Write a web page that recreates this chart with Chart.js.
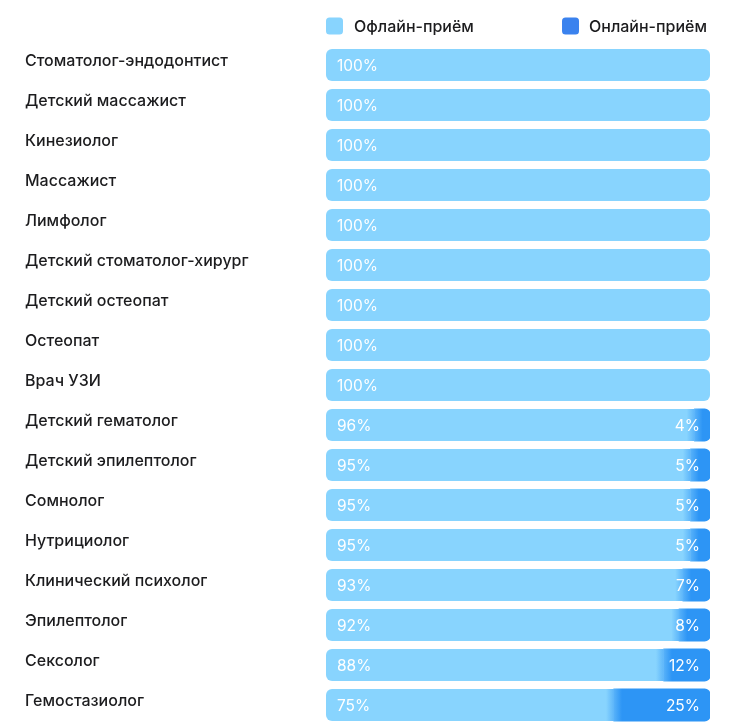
<!DOCTYPE html>
<html>
<head>
<meta charset="utf-8">
<script src="https://cdn.jsdelivr.net/npm/chart.js@4"></script>
<style>
  html, body { margin: 0; padding: 0; background: #fff; }
  #wrap { width: 742px; height: 726px; position: relative; }
</style>
</head>
<body>
<div id="wrap"><canvas id="c"></canvas></div>
<script>
const categories = [
  "Стоматолог-эндодонтист",
  "Детский массажист",
  "Кинезиолог",
  "Массажист",
  "Лимфолог",
  "Детский стоматолог-хирург",
  "Детский остеопат",
  "Остеопат",
  "Врач УЗИ",
  "Детский гематолог",
  "Детский эпилептолог",
  "Сомнолог",
  "Нутрициолог",
  "Клинический психолог",
  "Эпилептолог",
  "Сексолог",
  "Гемостазиолог"
];
const offlineValues = [100, 100, 100, 100, 100, 100, 100, 100, 100, 96, 95, 95, 95, 93, 92, 88, 75];
const onlineValues  = [0, 0, 0, 0, 0, 0, 0, 0, 0, 4, 5, 5, 5, 7, 8, 12, 25];
const seriesNames = ["Офлайн-приём", "Онлайн-приём"];

const OFF_COLOR = "#88D4FE";
const MID_COLOR = "#5CB5FA";
const ON_COLOR = "#2D95F5";
const ON_LEGEND = "#3A82EE";
const FONT = "Inter, 'Noto Sans', sans-serif";

function boundaryX(chart, i) {
  return chart.scales.x.getPixelForValue(offlineValues[i]);
}

function offlineBg(ctx) {
  const chart = ctx.chart;
  if (!chart.chartArea || ctx.type !== 'data') return OFF_COLOR;
  const i = ctx.dataIndex;
  if (!(onlineValues[i] > 0)) return OFF_COLOR;
  const x = boundaryX(chart, i);
  const g = chart.ctx.createLinearGradient(x - 8, 0, x, 0);
  g.addColorStop(0, OFF_COLOR);
  g.addColorStop(1, MID_COLOR);
  return g;
}

function onlineBg(ctx) {
  const chart = ctx.chart;
  if (!chart.chartArea || ctx.type !== 'data') return ON_COLOR;
  const i = ctx.dataIndex;
  if (!(onlineValues[i] > 0)) return 'rgba(0,0,0,0)';
  const x = boundaryX(chart, i);
  const g = chart.ctx.createLinearGradient(x - 1, 0, x + 8, 0);
  g.addColorStop(0, MID_COLOR);
  g.addColorStop(1, ON_COLOR);
  return g;
}

const valueLabels = {
  id: 'valueLabels',
  afterDatasetsDraw(chart) {
    const ctx = chart.ctx;
    ctx.save();
    ctx.font = "400 15.5px " + FONT;
    ctx.fillStyle = "#ffffff";
    ctx.textBaseline = "middle";
    const m0 = chart.getDatasetMeta(0);
    const m1 = chart.getDatasetMeta(1);
    m0.data.forEach((bar, i) => {
      const v = offlineValues[i];
      if (v > 0) {
        ctx.textAlign = "left";
        ctx.fillText(v + "%", bar.base + 11, bar.y + 1);
      }
    });
    m1.data.forEach((bar, i) => {
      const v = onlineValues[i];
      if (v > 0) {
        ctx.textAlign = "right";
        ctx.fillText(v + "%", bar.x - 10, bar.y + 1);
      }
    });
    ctx.restore();
  }
};

function roundRect(ctx, x, y, w, h, r) {
  ctx.beginPath();
  ctx.moveTo(x + r, y);
  ctx.lineTo(x + w - r, y);
  ctx.quadraticCurveTo(x + w, y, x + w, y + r);
  ctx.lineTo(x + w, y + h - r);
  ctx.quadraticCurveTo(x + w, y + h, x + w - r, y + h);
  ctx.lineTo(x + r, y + h);
  ctx.quadraticCurveTo(x, y + h, x, y + h - r);
  ctx.lineTo(x, y + r);
  ctx.quadraticCurveTo(x, y, x + r, y);
  ctx.closePath();
}

const topLegend = {
  id: 'topLegend',
  afterDraw(chart) {
    const ctx = chart.ctx;
    const area = chart.chartArea;
    ctx.save();
    ctx.font = "500 16px " + FONT;
    ctx.textBaseline = "middle";
    ctx.textAlign = "left";
    const cy = 26;
    const box = 17;
    const colors = [OFF_COLOR, ON_LEGEND];
    const x1 = area.left;
    const w2 = box + 10 + ctx.measureText(seriesNames[1]).width;
    const x2 = area.right - 5 - w2 + 2;
    [[x1, 11], [x2, 10]].forEach(([x, gap], i) => {
      ctx.fillStyle = colors[i];
      roundRect(ctx, x, cy - box / 2, box, box, 3.5);
      ctx.fill();
      ctx.fillStyle = "#1c1c1e";
      ctx.fillText(chart.data.datasets[i].label, x + box + gap, cy + 1);
    });
    ctx.restore();
  }
};

new Chart(document.getElementById('c'), {
  type: 'bar',
  data: {
    labels: categories,
    datasets: [
      {
        label: seriesNames[0],
        data: offlineValues,
        backgroundColor: offlineBg,
        borderSkipped: false,
        inflateAmount: 0,
        borderRadius: (ctx) => {
          const i = ctx.dataIndex;
          const r = (onlineValues[i] > 0) ? 0 : 6;
          return { topLeft: 6, bottomLeft: 6, topRight: r, bottomRight: r };
        },
        categoryPercentage: 0.8,
        barPercentage: 1
      },
      {
        label: seriesNames[1],
        data: onlineValues,
        backgroundColor: onlineBg,
        borderSkipped: false,
        inflateAmount: (ctx) => (onlineValues[ctx.dataIndex] > 0 ? 0.6 : 0),
        borderRadius: { topLeft: 0, bottomLeft: 0, topRight: 6, bottomRight: 6 },
        categoryPercentage: 0.8,
        barPercentage: 1
      }
    ]
  },
  options: {
    indexAxis: 'y',
    responsive: true,
    maintainAspectRatio: false,
    animation: false,
    layout: { padding: { left: 25, right: 32, top: 45, bottom: 1 } },
    plugins: {
      legend: { display: false },
      tooltip: { enabled: false }
    },
    scales: {
      x: {
        stacked: true,
        min: 0,
        max: 100,
        display: false
      },
      y: {
        stacked: true,
        grid: { display: false, drawTicks: false },
        border: { display: false },
        afterFit(scale) {
          scale.width = 301;
          scale.paddingTop = 0;
          scale.paddingBottom = 0;
        },
        ticks: {
          crossAlign: 'far',
          labelOffset: -4,
          padding: 0,
          color: '#1c1c1e',
          font: { family: FONT, size: 16, weight: '500' }
        }
      }
    }
  },
  plugins: [valueLabels, topLegend]
});
</script>
</body>
</html>
